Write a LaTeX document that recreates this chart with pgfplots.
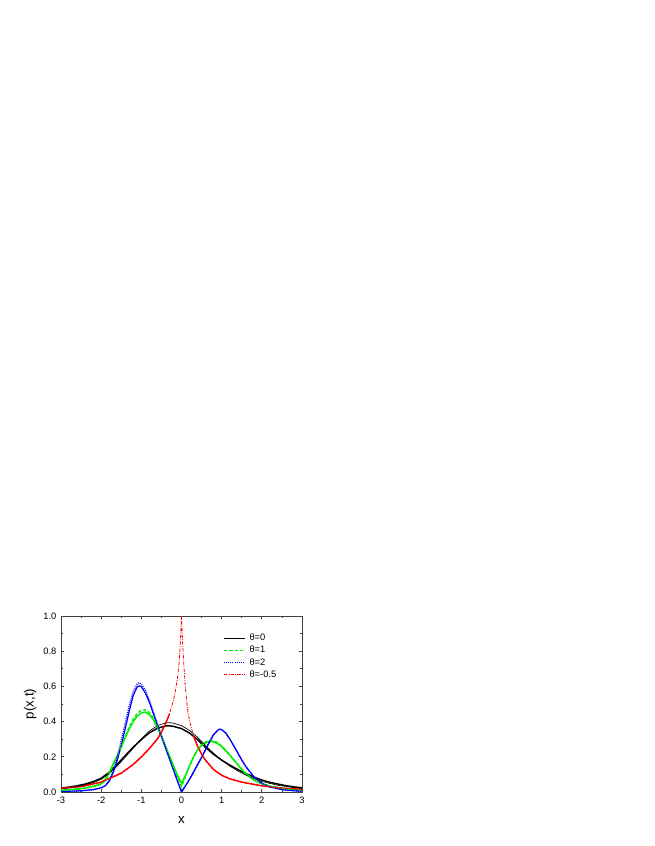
\documentclass[border=0pt]{standalone}
\usepackage{fontspec}
\setmainfont{Liberation Sans}
\usepackage{pgfplots}
\pgfplotsset{compat=1.18}
\definecolor{cblack}{RGB}{0,0,0}
\definecolor{cgreen}{RGB}{0,240,0}
\definecolor{cblue}{RGB}{0,0,255}
\definecolor{cred}{RGB}{255,0,0}
\begin{document}
\begin{tikzpicture}
\path[use as bounding box] (0pt,0pt) rectangle (490.5pt,634.5pt);
\begin{axis}[
  at={(45.75pt,40.5pt)}, anchor=south west,
  scale only axis, width=180.75pt, height=132pt,
  xmin=-3, xmax=3, ymin=0, ymax=1,
  xtick={-3,-2,-1,0,1,2,3},
  ytick={0,0.2,0.4,0.6,0.8,1.0},
  minor x tick num=1, minor y tick num=1,
  tick align=inside,
  major tick length=2.6pt, minor tick length=1.5pt,
  axis line style={draw=black!75, line width=0.7pt},
  every tick/.style={black!75, line width=0.5pt},
  tick label style={font=\fontsize{7}{8}\selectfont},
  /pgf/number format/assume math mode=true,
  yticklabel style={/pgf/number format/.cd, fixed, fixed zerofill, precision=1},
  xlabel={x}, ylabel={p(x,t)},
  label style={font=\fontsize{10}{12}\selectfont},
  xlabel style={at={(axis description cs:0.5,-0.159)}, anchor=center},
  ylabel style={at={(axis description cs:-0.128,0.5)}, anchor=center},
  legend style={draw=none, fill=none, at={(axis description cs:0.672,0.904)},
    anchor=north west, font=\fontsize{7}{8}\selectfont, inner sep=0pt,
    row sep=2pt, column sep=3pt,
    nodes={inner sep=0pt, text height=5.6pt, text depth=1.6pt}},
  legend cell align=left,
  legend image code/.code={\draw[#1] (0pt,0pt) -- (15.75pt,0pt);},
]
% simulation curves (thick)
\addplot[cblack, line width=1.1pt, forget plot] coordinates {(-3.0,0.022) (-2.8,0.028) (-2.6,0.035) (-2.4,0.045) (-2.2,0.059) (-2.0,0.078) (-1.8,0.112) (-1.6,0.158) (-1.5,0.182) (-1.4,0.207) (-1.2,0.255) (-1.0,0.298) (-0.8,0.336) (-0.6,0.362) (-0.4,0.375) (-0.3,0.376) (-0.2,0.373) (0.0,0.36) (0.2,0.335) (0.4,0.298) (0.5,0.275) (0.6,0.253) (0.8,0.214) (1.0,0.181) (1.2,0.153) (1.4,0.128) (1.6,0.105) (1.8,0.085) (2.0,0.068) (2.2,0.055) (2.4,0.045) (2.6,0.036) (2.8,0.029) (3.0,0.024)};
\addplot[cgreen, line width=1.1pt, forget plot] coordinates {(-3.0,0.01) (-2.6,0.017) (-2.4,0.023) (-2.2,0.032) (-2.0,0.047) (-1.9,0.07) (-1.8,0.11) (-1.7,0.16) (-1.6,0.205) (-1.5,0.255) (-1.4,0.31) (-1.3,0.36) (-1.2,0.4) (-1.1,0.432) (-1.0,0.45) (-0.9,0.454) (-0.8,0.44) (-0.7,0.41) (-0.6,0.367) (-0.5,0.315) (-0.4,0.26) (-0.3,0.205) (-0.2,0.15) (-0.1,0.095) (0.0,0.05) (0.1,0.095) (0.2,0.15) (0.3,0.2) (0.4,0.24) (0.5,0.265) (0.6,0.28) (0.7,0.287) (0.8,0.285) (0.9,0.275) (1.0,0.258) (1.2,0.21) (1.4,0.155) (1.5,0.128) (1.6,0.104) (1.8,0.068) (2.0,0.046) (2.2,0.033) (2.5,0.021) (2.8,0.014) (3.0,0.012)};
\addplot[cblue, line width=0.9pt, forget plot] coordinates {(-3.0,0.003) (-2.6,0.006) (-2.4,0.009) (-2.2,0.014) (-2.0,0.024) (-1.9,0.035) (-1.8,0.06) (-1.7,0.11) (-1.6,0.18) (-1.5,0.265) (-1.4,0.36) (-1.3,0.46) (-1.2,0.55) (-1.1,0.598) (-1.05,0.603) (-1.0,0.598) (-0.9,0.563) (-0.8,0.51) (-0.7,0.445) (-0.6,0.378) (-0.5,0.315) (-0.4,0.252) (-0.3,0.188) (-0.2,0.125) (-0.1,0.062) (0.0,0.0) (0.1,0.035) (0.2,0.072) (0.3,0.112) (0.4,0.155) (0.5,0.195) (0.6,0.24) (0.7,0.285) (0.8,0.325) (0.9,0.35) (0.95,0.356) (1.0,0.354) (1.1,0.335) (1.2,0.302) (1.3,0.262) (1.4,0.222) (1.5,0.182) (1.6,0.145) (1.8,0.087) (2.0,0.05) (2.2,0.029) (2.5,0.014) (2.8,0.007) (3.0,0.005)};
\addplot[cred, line width=1.1pt, forget plot] coordinates {(-3.0,0.021) (-2.5,0.031) (-2.0,0.056) (-1.5,0.107) (-1.2,0.157) (-1.0,0.2) (-0.8,0.247) (-0.6,0.302) (-0.5,0.34) (-0.4,0.386) (-0.3,0.443)};
\addplot[cred, line width=1.1pt, forget plot] coordinates {(0.3,0.318) (0.4,0.26) (0.5,0.215) (0.6,0.18) (0.8,0.127) (1.0,0.095) (1.2,0.075) (1.5,0.056) (2.0,0.035) (2.5,0.022) (3.0,0.015)};
% theory curves (legend styles)
\addplot[cblack, line width=0.5pt] coordinates {(-3.0,0.018) (-2.6,0.03) (-2.2,0.053) (-2.0,0.072) (-1.8,0.104) (-1.6,0.148) (-1.4,0.198) (-1.2,0.25) (-1.0,0.302) (-0.8,0.346) (-0.6,0.377) (-0.4,0.392) (-0.3,0.394) (-0.2,0.391) (0.0,0.377) (0.2,0.35) (0.4,0.31) (0.6,0.264) (0.8,0.22) (1.0,0.181) (1.2,0.148) (1.4,0.12) (1.6,0.096) (1.8,0.076) (2.0,0.06) (2.4,0.038) (2.8,0.025) (3.0,0.02)};
\addlegendentry{θ=0}
\addplot[cgreen, line width=1pt, dash pattern=on 2.5pt off 1.5pt] coordinates {(-3.0,0.008) (-2.6,0.014) (-2.2,0.029) (-2.0,0.043) (-1.9,0.062) (-1.8,0.1) (-1.7,0.155) (-1.6,0.205) (-1.5,0.258) (-1.4,0.315) (-1.3,0.37) (-1.2,0.415) (-1.1,0.448) (-1.0,0.465) (-0.9,0.467) (-0.8,0.452) (-0.7,0.42) (-0.6,0.375) (-0.5,0.32) (-0.4,0.262) (-0.3,0.204) (-0.2,0.145) (-0.1,0.085) (0.0,0.03) (0.1,0.088) (0.2,0.145) (0.3,0.197) (0.4,0.24) (0.5,0.268) (0.6,0.285) (0.7,0.293) (0.8,0.291) (0.9,0.28) (1.0,0.262) (1.2,0.212) (1.4,0.157) (1.6,0.105) (1.8,0.069) (2.0,0.046) (2.4,0.023) (2.8,0.013) (3.0,0.01)};
\addlegendentry{θ=1}
\addplot[cblue, line width=1pt, dash pattern=on 0.7pt off 0.9pt] coordinates {(-3.0,0.002) (-2.6,0.005) (-2.2,0.012) (-2.0,0.023) (-1.9,0.036) (-1.8,0.066) (-1.7,0.122) (-1.6,0.198) (-1.5,0.292) (-1.4,0.393) (-1.3,0.49) (-1.2,0.572) (-1.1,0.615) (-1.06,0.621) (-1.0,0.614) (-0.9,0.578) (-0.8,0.522) (-0.7,0.456) (-0.6,0.388) (-0.5,0.321) (-0.4,0.256) (-0.3,0.191) (-0.2,0.127) (-0.1,0.063) (0.0,0.0) (0.1,0.036) (0.2,0.074) (0.3,0.114) (0.4,0.157) (0.5,0.198) (0.6,0.243) (0.7,0.288) (0.8,0.328) (0.9,0.352) (0.95,0.358) (1.0,0.356) (1.1,0.337) (1.2,0.303) (1.3,0.263) (1.4,0.222) (1.5,0.182) (1.6,0.145) (1.8,0.086) (2.0,0.049) (2.2,0.028) (2.6,0.01) (3.0,0.004)};
\addlegendentry{θ=2}
\addplot[cred, line width=0.6pt, dash pattern=on 2.5pt off 1pt on 0.6pt off 1pt] coordinates {(-3.0,0.02) (-2.5,0.03) (-2.0,0.055) (-1.5,0.105) (-1.2,0.155) (-1.0,0.198) (-0.8,0.245) (-0.6,0.3) (-0.5,0.338) (-0.4,0.385) (-0.3,0.445) (-0.2,0.52) (-0.15,0.575) (-0.1,0.645) (-0.06,0.735) (-0.03,0.84) (0.0,1.0) (0.03,0.84) (0.06,0.715) (0.1,0.585) (0.15,0.47) (0.2,0.405) (0.3,0.318) (0.4,0.26) (0.5,0.215) (0.6,0.18) (0.8,0.127) (1.0,0.095) (1.2,0.075) (1.5,0.056) (2.0,0.035) (2.5,0.022) (3.0,0.015)};
\addlegendentry{θ=-0.5}
\end{axis}
\end{tikzpicture}
\end{document}
